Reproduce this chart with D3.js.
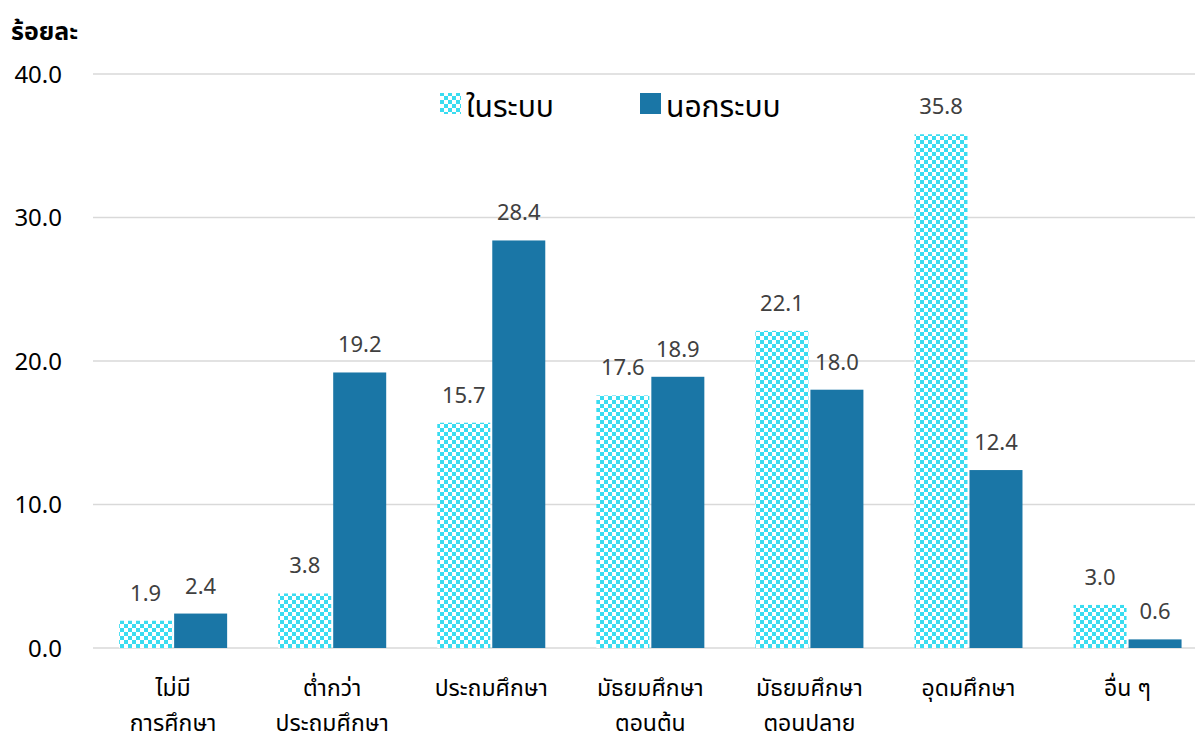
<!DOCTYPE html>
<html>
<head>
<meta charset="utf-8">
<script src="https://cdn.jsdelivr.net/npm/d3@7"></script>
<style>
body{margin:0;background:#fff;}
text{font-family:"Noto Sans Thai","Noto Sans","Tahoma",sans-serif;}
</style>
</head>
<body>
<svg id="chart" width="1195" height="740"></svg>
<script>
const categories = [["ไม่มี","การศึกษา"],["ต่ำกว่า","ประถมศึกษา"],["ประถมศึกษา"],["มัธยมศึกษา","ตอนต้น"],["มัธยมศึกษา","ตอนปลาย"],["อุดมศึกษา"],["อื่น ๆ"]];
const seriesNames = ["ในระบบ","นอกระบบ"];
const inSystem = [1.9, 3.8, 15.7, 17.6, 22.1, 35.8, 3.0];
const outSystem = [2.4, 19.2, 28.4, 18.9, 18.0, 12.4, 0.6];
const yTicks = [0, 10, 20, 30, 40];
const yTitle = "ร้อยละ";

const svg = d3.select("#chart");
const defs = svg.append("defs");
const pat = defs.append("pattern").attr("id","checker").attr("patternUnits","userSpaceOnUse")
  .attr("width",8).attr("height",8);
pat.append("rect").attr("width",8).attr("height",8).attr("fill","#3adcf0");
pat.append("rect").attr("x",0).attr("y",0).attr("width",4).attr("height",4).attr("fill","#ffffff");
pat.append("rect").attr("x",4).attr("y",4).attr("width",4).attr("height",4).attr("fill","#ffffff");

const gridLeft = 93, gridRight = 1195;
const y = d3.scaleLinear().domain([0,40]).range([648,74]);
const idx = categories.map((d,i)=>i);
const x = d3.scaleBand().domain(idx).range([93.6, 93.6+7*159.07]).padding(0);
const barW = 53, gap = 2;
const colors = ["url(#checker)","#1a76a6"];

// gridlines
svg.append("g").selectAll("line").data(yTicks).join("line")
  .attr("x1",gridLeft).attr("x2",gridRight)
  .attr("y1",d=>y(d)).attr("y2",d=>y(d))
  .attr("stroke","#d9d9d9").attr("stroke-width",1.5);

// y axis labels
const yAxis = d3.axisLeft(y).tickValues(yTicks).tickFormat(d3.format(".1f")).tickSize(0).tickPadding(0);
const ga = svg.append("g").attr("transform","translate(62,0)").call(yAxis);
ga.select(".domain").remove();
ga.selectAll("text").attr("font-size",24).attr("fill","#000").attr("dy","0.35em")
  .style("font-family",'"Noto Sans Thai","Noto Sans",sans-serif');

svg.append("text").attr("x",11).attr("y",40).attr("font-size",25).attr("font-weight","bold")
  .attr("fill","#000").text(yTitle);

const data = [inSystem, outSystem];
data.forEach((vals,s)=>{
  const g = svg.append("g");
  g.selectAll("rect").data(vals).join("rect")
    .attr("x",(d,i)=>x(i)+x.bandwidth()/2 - barW - gap/2 + s*(barW+gap))
    .attr("y",d=>y(d)).attr("width",barW).attr("height",d=>y(0)-y(d))
    .attr("fill",colors[s]);
  g.selectAll("text").data(vals).join("text")
    .attr("x",(d,i)=>x(i)+x.bandwidth()/2 - barW/2 - gap/2 + s*(barW+gap))
    .attr("y",d=>y(d)-20)
    .attr("text-anchor","middle").attr("font-size",22).attr("fill","#404040")
    .text(d=>d3.format(".1f")(d));
});

// x labels
const xl = svg.append("g");
categories.forEach((lines,i)=>{
  lines.forEach((t,j)=>{
    xl.append("text").attr("x",x(i)+x.bandwidth()/2).attr("y",696+j*35)
      .attr("text-anchor","middle").attr("font-size",23).attr("fill","#000").text(t);
  });
});

// legend
const legend = svg.append("g");
const legX = [440, 640];
seriesNames.forEach((n,s)=>{
  legend.append("rect").attr("x",legX[s]).attr("y",93).attr("width",21).attr("height",21).attr("fill",colors[s]);
  legend.append("text").attr("x",legX[s]+26).attr("y",117).attr("font-size",30).attr("fill","#000").text(n);
});
</script>
</body>
</html>
